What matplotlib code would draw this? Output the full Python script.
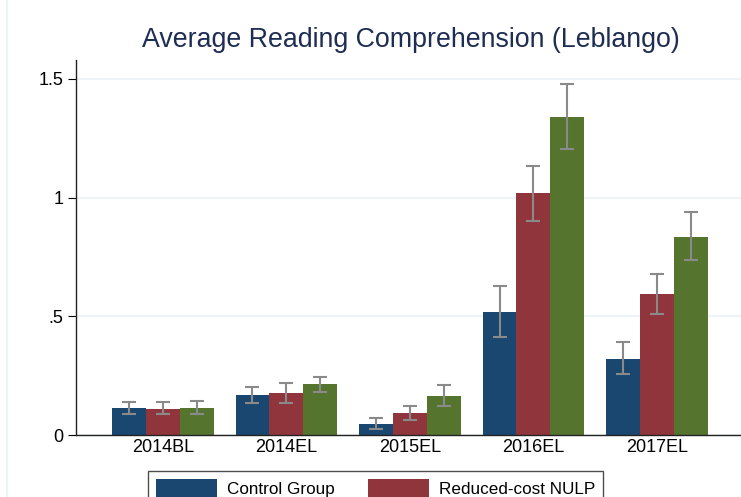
import matplotlib.pyplot as plt
import matplotlib.lines as mlines
import numpy as np

plt.rcParams['font.family'] = ['Liberation Sans', 'DejaVu Sans']

rounds = ['2014BL', '2014EL', '2015EL', '2016EL', '2017EL']
groups = ['Control Group', 'Reduced-cost NULP', 'Full-cost NULP']

control = [0.115, 0.170, 0.048, 0.520, 0.322]
control_lo = [0.090, 0.136, 0.024, 0.414, 0.256]
control_hi = [0.139, 0.202, 0.070, 0.627, 0.391]

reduced = [0.111, 0.178, 0.094, 1.018, 0.593]
reduced_lo = [0.087, 0.136, 0.065, 0.903, 0.510]
reduced_hi = [0.138, 0.220, 0.121, 1.134, 0.677]

full = [0.115, 0.214, 0.166, 1.341, 0.836]
full_lo = [0.090, 0.181, 0.124, 1.204, 0.736]
full_hi = [0.143, 0.244, 0.211, 1.479, 0.939]

colors = ['#1a476f', '#90353b', '#55752f']
grid_c = '#eaf2f3'

W, H = 741, 497
fig = plt.figure(figsize=(W / 100, H / 100), dpi=100)
ax = fig.add_axes([76 / W, 62 / H, (760 - 76) / W, (435 - 60) / H])

x = np.arange(len(rounds))
bw = 0.275
series = [(control, control_lo, control_hi),
          (reduced, reduced_lo, reduced_hi),
          (full, full_lo, full_hi)]
handles = []
for i, (vals, lo, hi) in enumerate(series):
    xs = x + (i - 1) * bw
    b = ax.bar(xs, vals, width=bw, color=colors[i], label=groups[i], zorder=2)
    handles.append(b)
    v = np.array(vals)
    err = [v - np.array(lo), np.array(hi) - v]
    ax.errorbar(xs, vals, yerr=err, fmt='none', ecolor='#8a8a8a',
                elinewidth=1.5, capsize=5, capthick=1.5, zorder=3)

ax.set_xlim(-0.704, 4.834)
ax.set_ylim(0, 1.58)
ax.set_yticks([0, 0.5, 1, 1.5])
ax.set_yticklabels(['0', '.5', '1', '1.5'])
ax.set_xticks(x)
ax.set_xticklabels(rounds)
ax.tick_params(axis='x', length=0, labelsize=13, pad=3)
ax.tick_params(axis='y', length=6, width=0.8, labelsize=13, pad=3)
ax.yaxis.grid(True, color=grid_c, linewidth=1.2, zorder=0)
ax.set_axisbelow(True)
for s in ['top', 'right']:
    ax.spines[s].set_visible(False)
for s in ['left', 'bottom']:
    ax.spines[s].set_linewidth(1.0)
    ax.spines[s].set_color('#222222')

fig.text(411 / W, 1 - 40 / H, 'Average Reading Comprehension (Leblango)',
         ha='center', va='center', fontsize=19.3, color='#1e2d53')

# outer graph region edge
fig.add_artist(mlines.Line2D([7 / W, 7 / W], [0, 1], color=grid_c, lw=1.2))

# only the first legend row is visible in the cropped figure
leg = fig.legend(handles[:2], groups[:2],
                 loc='upper left', bbox_to_anchor=(148 / W, 1 - 471 / H),
                 ncol=2, fontsize=12.3, frameon=True, fancybox=False,
                 edgecolor='#222222', handlelength=3.6, handleheight=1.3,
                 handletextpad=0.6, columnspacing=1.9, borderpad=0.45,
                 borderaxespad=0)
leg.get_frame().set_linewidth(1.0)

fig.savefig('out.png', dpi=100)
